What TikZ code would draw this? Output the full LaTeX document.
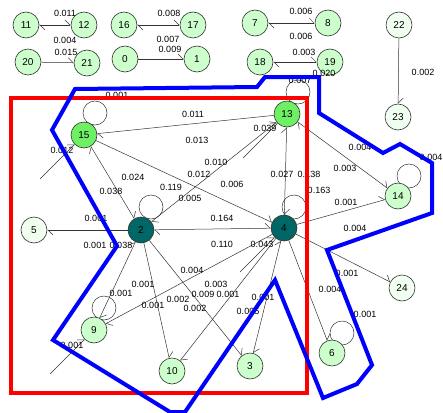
\documentclass[tikz,border=0pt]{standalone}
\usepackage{fontspec}
\setmainfont{Liberation Sans}
\usetikzlibrary{arrows.meta,backgrounds}
\definecolor{pale}{RGB}{240,255,240}
\definecolor{mint}{RGB}{204,255,204}
\definecolor{lime}{RGB}{110,240,100}
\definecolor{deepteal}{RGB}{0,102,102}
\tikzset{
  vert/.style={circle,draw=black!80,line width=0.6pt,fill=mint,minimum size=26pt,inner sep=0pt,font=\fontsize{10}{10}\selectfont},
  wt/.style={font=\fontsize{9}{9}\selectfont,inner sep=0pt},
  barb/.tip={Straight Barb[left,length=5pt,width=10pt]},
  link/.style={draw=black!80,line width=0.5pt,-barb},
  bilink/.style={draw=black!80,line width=0.5pt,barb-barb},
  selfloop/.style={draw=black!80,line width=0.5pt},
  frame/.style={draw=red,line width=4pt},
  hull/.style={draw=blue,line width=4pt,line join=miter}
}
\begin{document}
\begin{tikzpicture}[x=1pt,y=-1pt]
\useasboundingbox (0,0) rectangle (443,412);
\node[vert] (n11) at (26,25) {11};
\node[vert] (n12) at (84,25) {12};
\node[vert] (n16) at (124,25) {16};
\node[vert] (n17) at (193,25) {17};
\node[vert] (n7) at (255,23) {7};
\node[vert] (n8) at (328,23) {8};
\node[vert,fill=pale] (n22) at (399,25) {22};
\node[vert] (n20) at (28,62) {20};
\node[vert] (n21) at (87,63) {21};
\node[vert] (n0) at (125,59) {0};
\node[vert] (n1) at (197,59) {1};
\node[vert] (n18) at (260,62) {18};
\node[vert] (n19) at (330,62) {19};
\node[vert,fill=pale] (n23) at (398,117) {23};
\node[vert,fill=lime] (n15) at (84,135) {15};
\node[vert,fill=lime] (n13) at (287,114) {13};
\node[vert] (n14) at (398,196) {14};
\node[vert,fill=pale] (n5) at (34,230) {5};
\node[vert,fill=deepteal] (n2) at (141,230) {2};
\node[vert,fill=deepteal] (n4) at (284,228) {4};
\node[vert,fill=pale] (n24) at (402,288) {24};
\node[vert] (n9) at (94,330) {9};
\node[vert] (n10) at (172,371) {10};
\node[vert] (n3) at (250,366) {3};
\node[vert] (n6) at (332,353) {6};
\coordinate (f15) at (40,179);
\coordinate (f13) at (243,158);
\coordinate (f4) at (240,272);
\coordinate (f9) at (50,374);

\draw[bilink] (n11) -- (n12);
\draw[bilink] (n16) -- (n17);
\draw[bilink] (n7) -- (n8);
\draw[link] (n20) -- (n21);
\draw[link] (n0) -- (n1);
\draw[bilink] (n18) -- (n19);
\draw[link] (n22) -- (n23);
\draw[link] (n13) -- (n15);
\draw[link] (f15) -- (n15);
\draw[bilink] (n2) -- (n15);
\draw[link] (n15) -- (n4);
\draw[bilink] (n2) -- (n13);
\draw[link] (f13) -- (n13);
\draw[bilink] (n13) -- (n4);
\draw[bilink] (n2) -- (n4);
\draw[bilink] (n13) -- (n14);
\draw[link] (n4) -- (n14);
\draw[link] (n4) -- (n24);
\draw[link] (n4) -- (n6);
\draw[bilink] (n3) -- (n4);
\draw[link] (n4) -- (n10);
\draw[link] (n4) -- (n9);
\draw[link] (f4) -- (n4);
\draw[link] (n2) -- (n5);
\draw[bilink] (n9) -- (n2);
\draw[link] (n2) -- (n10);
\draw[link] (n2) -- (n3);
\draw[link] (f9) -- (n9);
\begin{scope}[on background layer]
\draw[selfloop] (n15) ++(11,-22) circle (12);
\draw[selfloop] (n2) ++(10,-23) circle (12);
\draw[selfloop] (n13) ++(11,-22) circle (12);
\draw[selfloop] (n4) ++(10,-21) circle (12);
\draw[selfloop] (n14) ++(11,-20) circle (12);
\draw[selfloop] (n9) ++(10,-22) circle (12);
\draw[selfloop] (n6) ++(10,-20) circle (12);
\end{scope}

\node[wt] (w1) at (65,13) {0.011};
\node[wt] (w2) at (65,40) {0.004};
\node[wt] (w3) at (66,52) {0.015};
\node[wt] (w4) at (169,13) {0.008};
\node[wt] (w5) at (168,39) {0.007};
\node[wt] (w6) at (170,49) {0.009};
\node[wt] (w7) at (301,11) {0.006};
\node[wt] (w8) at (301,36) {0.006};
\node[wt] (w9) at (304,52) {0.003};
\node[wt] (w10) at (300,80) {0.007};
\node[wt] (w11) at (324,73) {0.020};
\node[wt] (w12) at (423,72) {0.002};
\node[wt] (w13) at (117,95) {0.001};
\node[wt] (w14) at (193,114) {0.011};
\node[wt] (w15) at (197,140) {0.013};
\node[wt] (w16) at (62,150) {0.012};
\node[wt] (w17) at (133,177) {0.024};
\node[wt] (w18) at (111,191) {0.038};
\node[wt] (w19) at (171,187) {0.119};
\node[wt] (w20) at (190,198) {0.005};
\node[wt] (w21) at (199,174) {0.012};
\node[wt] (w22) at (216,162) {0.010};
\node[wt] (w23) at (232,184) {0.006};
\node[wt] (w24) at (265,128) {0.039};
\node[wt] (w25) at (282,174) {0.027};
\node[wt] (w26) at (309,174) {0.138};
\node[wt] (w27) at (319,190) {0.163};
\node[wt] (w28) at (360,147) {0.004};
\node[wt] (w29) at (345,168) {0.003};
\node[wt] (w30) at (431,157) {0.004};
\node[wt] (w31) at (346,202) {0.001};
\node[wt] (w32) at (355,228) {0.004};
\node[wt] (w33) at (222,218) {0.164};
\node[wt] (w34) at (96,218) {0.001};
\node[wt] (w35) at (222,244) {0.110};
\node[wt] (w36) at (262,244) {0.043};
\node[wt] (w37) at (95,245) {0.001};
\node[wt] (w38) at (121,245) {0.038};
\node[wt] (w39) at (192,270) {0.004};
\node[wt] (w40) at (143,284) {0.001};
\node[wt] (w41) at (121,293) {0.001};
\node[wt] (w42) at (153,305) {0.001};
\node[wt] (w43) at (178,299) {0.002};
\node[wt] (w44) at (195,308) {0.002};
\node[wt] (w45) at (203,294) {0.009};
\node[wt] (w46) at (216,284) {0.003};
\node[wt] (w47) at (228,294) {0.001};
\node[wt] (w48) at (263,297) {0.001};
\node[wt] (w49) at (248,311) {0.005};
\node[wt] (w50) at (347,273) {0.001};
\node[wt] (w51) at (330,289) {0.004};
\node[wt] (w52) at (365,314) {0.001};
\node[wt] (w53) at (72,345) {0.001};

\draw[frame] (11,98) rectangle (307,393);
\draw[hull] (75,89) -- (257,87) -- (265,77) -- (319,77) -- (319,113) -- (383,153)
  -- (400,144) -- (432,163) -- (432,213) -- (327,250) -- (372,365) -- (357,384)
  -- (323,398) -- (275,280) -- (185,412) -- (170,412) -- (53,340) -- (117,246)
  -- (52,130) -- cycle;
\end{tikzpicture}
\end{document}
